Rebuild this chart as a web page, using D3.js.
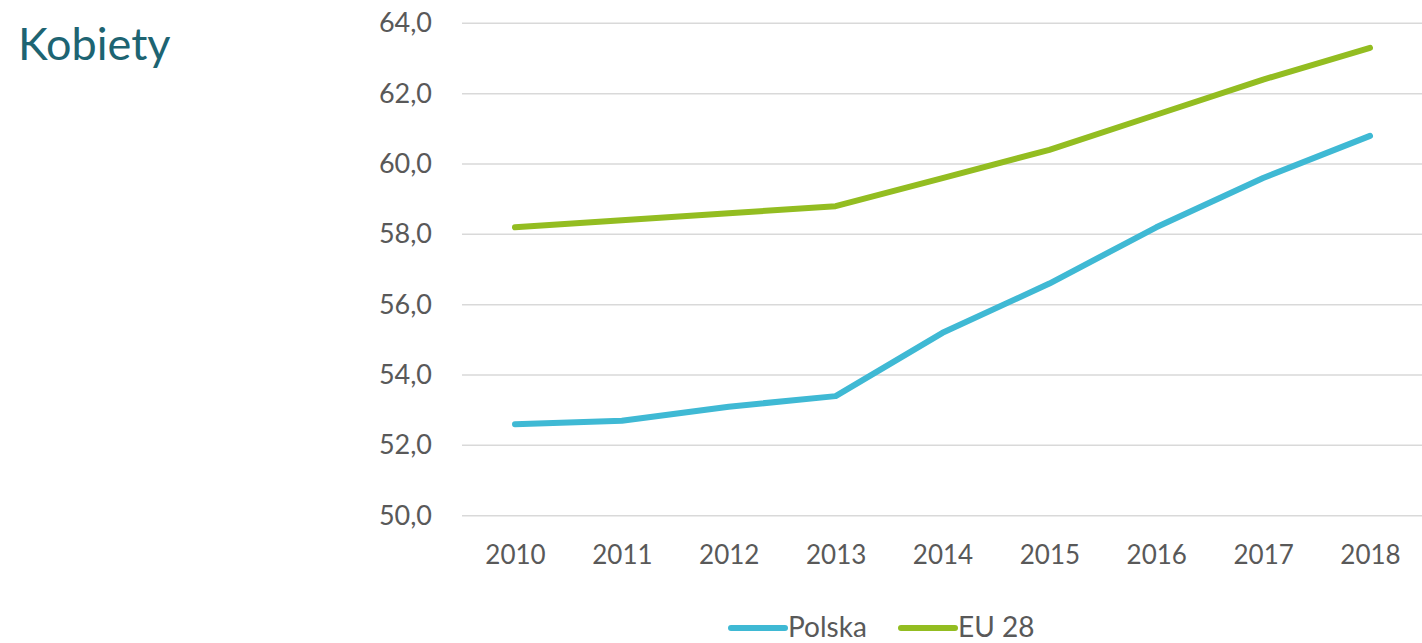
<!DOCTYPE html>
<html>
<head>
<meta charset="utf-8">
<script src="https://cdn.jsdelivr.net/npm/d3@7"></script>
<style>
  html, body { margin: 0; padding: 0; background: #fff; }
  svg { display: block; }
  text { font-family: Lato, "Open Sans", sans-serif; }
</style>
</head>
<body>
<svg id="chart" width="1422" height="643"></svg>
<script>
const years = ["2010","2011","2012","2013","2014","2015","2016","2017","2018"];
const polska = [52.6, 52.7, 53.1, 53.4, 55.2, 56.6, 58.2, 59.6, 60.8];
const eu28 = [58.2, 58.4, 58.6, 58.8, 59.6, 60.4, 61.4, 62.4, 63.3];
const yTicks = [50, 52, 54, 56, 58, 60, 62, 64];
const seriesNames = ["Polska", "EU 28"];
const seriesColors = ["#3FB9D4", "#93BD21"];

const svg = d3.select("#chart");
const W = 1422, H = 643;

const x = d3.scalePoint().domain(years).range([515, 1370]);
const y = d3.scaleLinear().domain([50, 64]).range([515.7, 23.3]);

// title
svg.append("text")
  .attr("x", 18).attr("y", 60)
  .attr("fill", "#1D6472")
  .attr("font-size", 45)
  .text("Kobiety");

// gridlines
svg.append("g").selectAll("line").data(yTicks).join("line")
  .attr("x1", 462).attr("x2", W)
  .attr("y1", d => y(d)).attr("y2", d => y(d))
  .attr("stroke", "#D9D9D9").attr("stroke-width", 1.5);

// y axis labels
const yAxis = d3.axisLeft(y).tickValues(yTicks)
  .tickFormat(d => d3.format(".1f")(d).replace(".", ","))
  .tickSize(0).tickPadding(30);
const gy = svg.append("g").attr("transform", "translate(462,0)").call(yAxis);
gy.select(".domain").remove();
gy.selectAll("text").attr("font-size", 27).attr("fill", "#595959")
  .style("font-family", "Lato, 'Open Sans', sans-serif");

// x axis labels
const xAxis = d3.axisBottom(x).tickSize(0).tickPadding(30);
const gx = svg.append("g").attr("transform", "translate(0,515.7)").call(xAxis);
gx.select(".domain").remove();
gx.selectAll("text").attr("font-size", 26).attr("fill", "#595959")
  .style("font-family", "Lato, 'Open Sans', sans-serif");

// lines
const line = d3.line().x((d, i) => x(years[i])).y(d => y(d));
[polska, eu28].forEach((s, k) => {
  svg.append("path").datum(s)
    .attr("d", line)
    .attr("fill", "none")
    .attr("stroke", seriesColors[k])
    .attr("stroke-width", 6)
    .attr("stroke-linecap", "round")
    .attr("stroke-linejoin", "round");
});

// legend
const legendX = [731, 901];
seriesNames.forEach((n, k) => {
  const g = svg.append("g").attr("transform", `translate(${legendX[k]},628)`);
  g.append("line").attr("x1", 0).attr("x2", 54).attr("y1", 0).attr("y2", 0)
    .attr("stroke", seriesColors[k]).attr("stroke-width", 6).attr("stroke-linecap", "round");
  g.append("text").attr("x", 57).attr("y", 9)
    .attr("font-size", 28).attr("fill", "#595959").text(n);
});
</script>
</body>
</html>
